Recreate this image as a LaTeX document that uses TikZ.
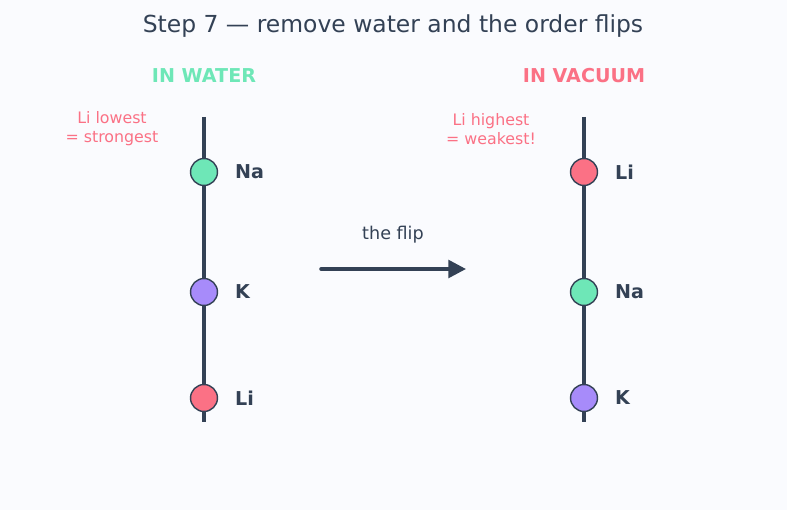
\documentclass[tikz,border=0pt]{standalone}
\usepackage{fontspec}
\setmainfont{DejaVu Sans}
\usepackage{xcolor}
\usetikzlibrary{positioning,arrows.meta}
\definecolor{ink}{HTML}{334155}
\definecolor{bg}{HTML}{FAFBFE}
\definecolor{nagreen}{HTML}{6EE7B7}
\definecolor{kpurple}{HTML}{A78BFA}
\definecolor{lired}{HTML}{FB7185}
\tikzset{
  ion/.style={circle, draw=ink, line width=1.2pt, minimum size=23pt, inner sep=0pt},
  ionlabel/.style={anchor=west, text=ink, font=\fontsize{16.3}{19}\selectfont\bfseries},
  axis/.style={draw=ink, line width=3pt},
  heading/.style={font=\fontsize{16.3}{19}\selectfont\bfseries},
  note/.style={text=lired, font=\fontsize{13.5}{16.3}\selectfont, align=center}
}
\begin{document}
\begin{tikzpicture}[x=0.03cm, y=-0.03cm]
  \fill[bg] (0,0) rectangle (787,510);
  \useasboundingbox (0,0) rectangle (787,510);
  \node (title) at (393,26) [text=ink, font=\fontsize{20}{24}\selectfont] {Step 7 — remove water and the order flips};
  % in water
  \node (hwater) at (204,76) [heading, text=nagreen] {IN WATER};
  \node (nwater) at (112,129) [note] {Li lowest\\= strongest};
  \coordinate (wtop) at (204,117);
  \coordinate (wbot) at (204,422);
  \draw[axis] (wtop) -- (wbot);
  \node[ion, fill=nagreen] (wna) at (204,172) {};
  \node[ion, fill=kpurple] (wk) at (204,292) {};
  \node[ion, fill=lired] (wli) at (204,398) {};
  \node[ionlabel] at (231,172) {Na};
  \node[ionlabel] at (231,292) {K};
  \node[ionlabel] at (231,398) {Li};
  % the flip
  \coordinate (astart) at (321,269);
  \coordinate (aend) at (466,269);
  \draw[ink, line width=3pt, line cap=round, -{Triangle[length=15pt, width=15pt]}] (astart) -- (aend);
  \node (flip) at (393,235) [text=ink, font=\fontsize{15}{18}\selectfont] {the flip};
  % in vacuum
  \node (hvac) at (584,76) [heading, text=lired] {IN VACUUM};
  \node (nvac) at (491,129) [note] {Li highest\\= weakest!};
  \coordinate (vtop) at (584,117);
  \coordinate (vbot) at (584,422);
  \draw[axis] (vtop) -- (vbot);
  \node[ion, fill=lired] (vli) at (584,172) {};
  \node[ion, fill=nagreen] (vna) at (584,292) {};
  \node[ion, fill=kpurple] (vk) at (584,398) {};
  \node[ionlabel] at (611,172) {Li};
  \node[ionlabel] at (611,292) {Na};
  \node[ionlabel] at (611,398) {K};
\end{tikzpicture}
\end{document}
